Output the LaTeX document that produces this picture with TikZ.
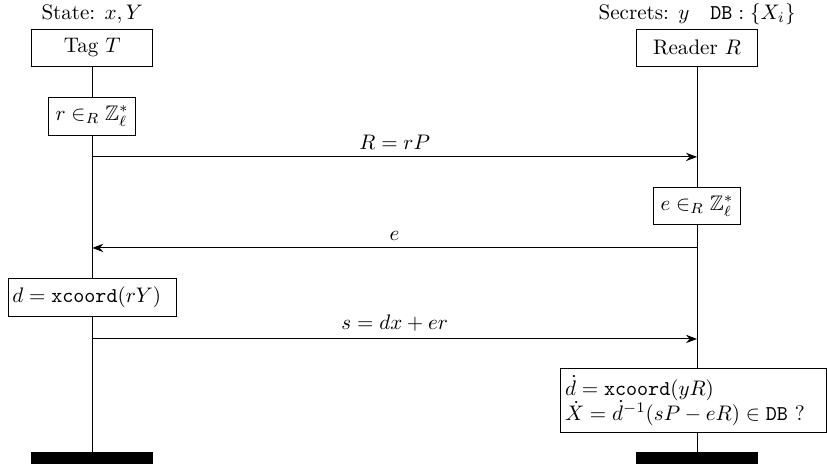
\documentclass[tikz,border=0pt]{standalone}
\usepackage{amsmath}
\usepackage{amssymb}
\usetikzlibrary{
    arrows.meta,
    positioning,
    calc
}
\tikzset{
    % --- Party box (tag / reader) ---
    party/.style = {
        rectangle, draw, fill=white,
        minimum width=2.02cm, minimum height=0.63cm
    },
    % --- Text above a party box ---
    partyinfo/.style = {
        anchor=base
    },
    % --- Local computation box ---
    compute/.style = {
        rectangle, draw, fill=white,
        minimum height=0.63cm
    },
    % --- Computation box with flush-left text ---
    compute left/.style = {
        compute, align=left, inner xsep=2pt
    },
    % --- Lifeline of a party ---
    lifeline/.style = {
        line width=0.5pt
    },
    % --- Black bar closing a lifeline ---
    endbar/.style = {
        rectangle, fill=black, inner sep=0pt,
        minimum width=2.04cm, minimum height=0.2cm
    },
    % --- Message arrow ---
    msg/.style = {
        -Stealth, line width=0.5pt
    },
    % --- Message label ---
    msglabel/.style = {
        above, midway
    }
}

\begin{document}
\begin{tikzpicture}[>=Stealth, line width=0.5pt]

\useasboundingbox (0,0) rectangle (13.81,-7.77);

% ---------------------------------------------------------
% Parties
% ---------------------------------------------------------
\node[party] (tag) at (1.54,-0.80) {Tag $T$};
\node[party] (reader) at (11.64,-0.80) {Reader $R$};

\node[above=4.3pt of tag.north, partyinfo] (state) {State: $x,Y$};
\node[above=4.3pt of reader.north, partyinfo] (secrets) {Secrets: $y$\quad$\mathtt{DB}:\{X_i\}$};

% End bars
\node[endbar] (tagEnd) at (1.54,-7.65) {};
\node[endbar] (readerEnd) at (11.64,-7.65) {};

% Lifelines
\draw[lifeline] (tag) -- (tagEnd);
\draw[lifeline] (reader) -- (readerEnd);

% ---------------------------------------------------------
% Local computations
% ---------------------------------------------------------
\node[compute] (pickR) at (1.54,-1.94) {$r \in_R \mathbb{Z}_\ell^*$};
\node[compute] (pickE) at (11.64,-3.44) {$e \in_R \mathbb{Z}_\ell^*$};
\node[compute left, text width=2.67cm] (computeD) at (1.54,-4.97) {%
    $d = \mathtt{xcoord}(rY)$
};
\node[compute left, text width=4.29cm, minimum height=1.07cm] (verify) at (11.58,-6.69) {%
    $\dot{d} = \mathtt{xcoord}(yR)$\\
    $\dot{X} = \dot{d}^{-1}(sP - eR) \in \mathtt{DB}$ ?
};

% ---------------------------------------------------------
% Messages
% ---------------------------------------------------------
\coordinate (row1) at (0,-2.62);
\coordinate (row2) at (0,-4.14);
\coordinate (row3) at (0,-5.66);

\draw[msg] (tag |- row1) -- (reader |- row1) node[msglabel] {$R = rP$};
\draw[msg] (reader |- row2) -- (tag |- row2) node[msglabel] {$e$};
\draw[msg] (tag |- row3) -- (reader |- row3) node[msglabel] {$s = dx + er$};

\end{tikzpicture}
\end{document}
